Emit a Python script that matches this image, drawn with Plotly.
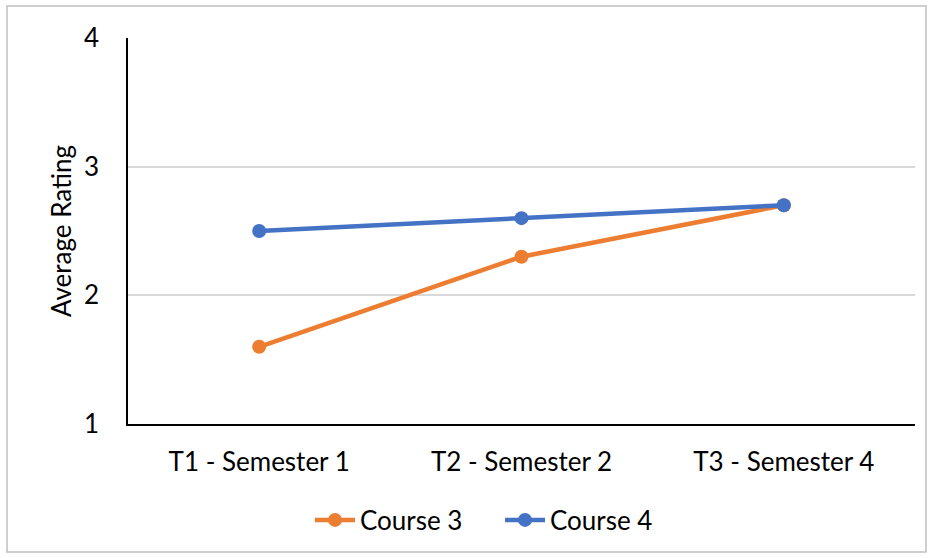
import plotly.graph_objects as go

categories = ["T1 - Semester 1", "T2 - Semester 2", "T3 - Semester 4"]
course3 = [1.6, 2.3, 2.7]
course4 = [2.5, 2.6, 2.7]

W, H = 933, 558
L, R, T, B = 128, 18, 38, 134
pw, ph = W - L - R, H - T - B

fig = go.Figure()
fig.add_trace(go.Scatter(x=categories, y=course3, name="Course 3", mode="lines+markers",
                         line=dict(color="#ED7D31", width=4.5), marker=dict(size=14, color="#ED7D31")))
fig.add_trace(go.Scatter(x=categories, y=course4, name="Course 4", mode="lines+markers",
                         line=dict(color="#4472C4", width=4.5), marker=dict(size=14, color="#4472C4")))

font = "Lato, 'Open Sans', sans-serif"
FS = 26
fig.update_layout(
    width=W, height=H,
    margin=dict(l=L, r=R, t=T, b=B),
    paper_bgcolor="white", plot_bgcolor="white",
    font=dict(family=font, size=FS, color="black"),
    showlegend=True,
    legend=dict(orientation="h", x=(500 - L) / pw, xanchor="center",
                y=-(520 - (H - B)) / ph, yanchor="middle",
                font=dict(size=FS), itemwidth=40, entrywidth=135),
    xaxis=dict(range=[-0.5, 2.5], showgrid=False, showline=True, linecolor="black", linewidth=1.5,
               ticks="", tickfont=dict(size=FS), ticklabelstandoff=14),
    yaxis=dict(range=[1, 4], dtick=1, showgrid=True, gridcolor="#D9D9D9", gridwidth=1.5,
               showline=True, linecolor="black", linewidth=1.5, zeroline=False,
               ticks="", tickfont=dict(size=FS), ticklabelstandoff=22,
               title=dict(text="Average Rating", font=dict(size=FS), standoff=5)),
)

# outer chart border
fig.add_shape(type="rect", xref="paper", yref="paper",
              x0=(7 - L) / pw, x1=(926 - L) / pw,
              y0=(H - B - 552) / ph, y1=(H - B - 6) / ph,
              line=dict(color="#BFBFBF", width=1.5), fillcolor="rgba(0,0,0,0)", layer="below")

fig.write_html("out.html", config={"displayModeBar": False},
               post_script="document.body.style.margin='0';")
